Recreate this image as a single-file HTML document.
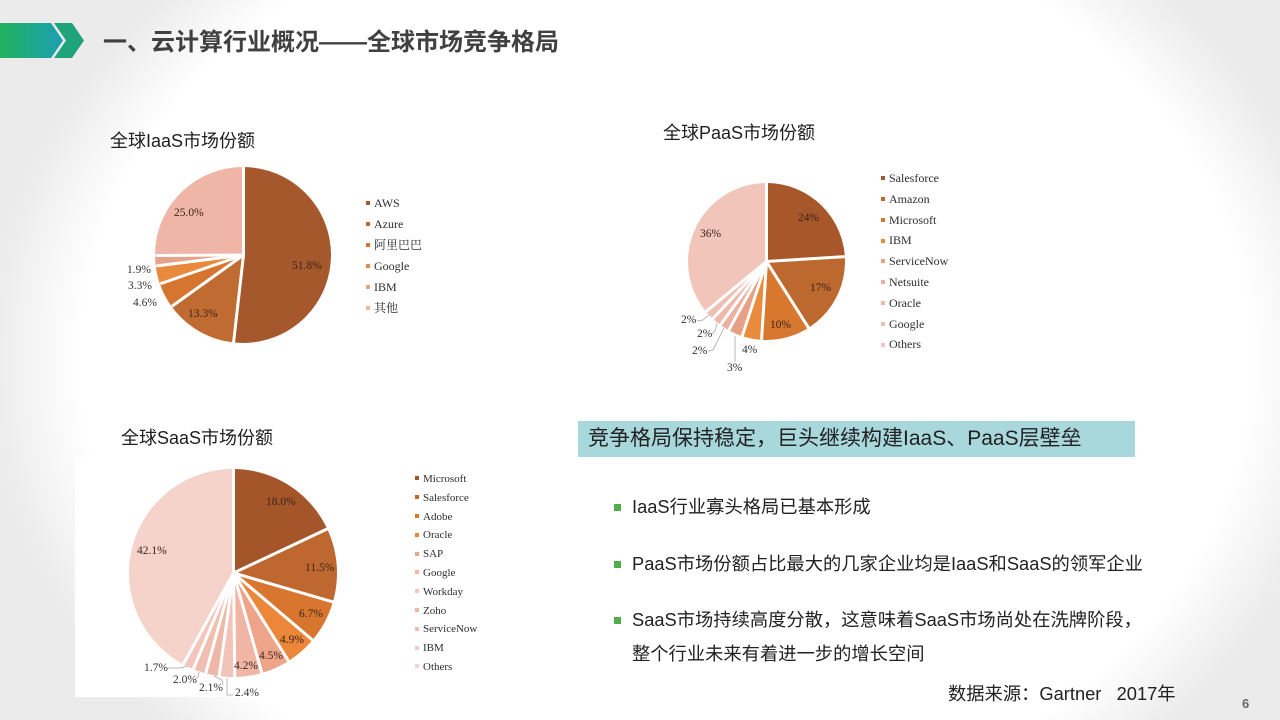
<!DOCTYPE html>
<html><head><meta charset="utf-8">
<style>
html,body{margin:0;padding:0;}
body{width:1280px;height:720px;position:relative;overflow:hidden;
background:radial-gradient(ellipse 680px 540px at 52% 50%, #ffffff 86%, #ebebeb 100%);
font-family:"Liberation Sans","Noto Sans CJK SC",sans-serif;}
.abs{position:absolute;}
.cn{font-family:"Liberation Sans","Noto Sans CJK SC",sans-serif;white-space:nowrap;}
.sub{font-size:18px;color:#1e1e1e;line-height:20px;}
.pie{position:absolute;border-radius:50%;}
.sep{position:absolute;width:3px;background:#fff;transform-origin:50% 100%;}
.lab{position:absolute;font-family:"Liberation Serif","Noto Serif CJK SC",serif;font-size:11.5px;line-height:14px;color:#3a2418;white-space:nowrap;}
.lg{position:absolute;font-family:"Liberation Serif","Noto Serif CJK SC",serif;color:#2e2e2e;white-space:nowrap;}
.lg i{display:inline-block;width:4px;height:4px;margin-right:4px;vertical-align:middle;position:relative;top:-1px;}
.bul{position:absolute;width:7px;height:7px;background:#4fae4a;}
.bt{position:absolute;font-size:18.3px;line-height:22px;color:#222;white-space:nowrap;}
</style></head><body>

<!-- header arrows -->
<svg class="abs" style="left:0;top:0" width="100" height="80">
<defs><linearGradient id="hg" x1="0" y1="0" x2="1" y2="0">
<stop offset="0" stop-color="#22b25c"/><stop offset="1" stop-color="#1b9fb4"/></linearGradient></defs>
<polygon points="0,23 51,23 63,40.5 51,58 0,58" fill="url(#hg)"/>
<polygon points="54,23 72,23 84,40.5 72,58 54,58 66,40.5" fill="#1ea37a"/>
</svg>
<div class="abs cn" style="left:103px;top:30px;font-size:24px;line-height:26px;font-weight:bold;color:#404040;">一、云计算行业概况——全球市场竞争格局</div>

<!-- chart image backgrounds -->
<div class="abs" style="left:140px;top:156px;width:300px;height:204px;background:#fff;"></div>
<div class="abs" style="left:662px;top:152px;width:305px;height:232px;background:#fff;"></div>
<div class="abs" style="left:75px;top:458px;width:435px;height:239px;background:#fff;"></div>

<!-- IaaS -->
<div class="abs sub cn" style="left:110px;top:131px;">全球IaaS市场份额</div>
<div class="pie" style="left:155px;top:167px;width:176px;height:176px;
background:conic-gradient(#a5582b 0 51.8%,#bf6b31 51.8% 65.1%,#d6752f 65.1% 69.7%,#e8893c 69.7% 73%,#e8a18b 73% 74.9%,#efb6a7 74.9% 100%);"></div>
<div class="sep" style="left:241.5px;top:167px;height:88px;transform:rotate(0deg)"></div>
<div class="sep" style="left:241.5px;top:167px;height:88px;transform:rotate(186.48deg)"></div>
<div class="sep" style="left:241.5px;top:167px;height:88px;transform:rotate(234.36deg)"></div>
<div class="sep" style="left:241.5px;top:167px;height:88px;transform:rotate(250.92deg)"></div>
<div class="sep" style="left:241.5px;top:167px;height:88px;transform:rotate(262.8deg)"></div>
<div class="sep" style="left:241.5px;top:167px;height:88px;transform:rotate(269.64deg)"></div>
<div class="lab" style="left:292px;top:259px;">51.8%</div>
<div class="lab" style="left:188px;top:307px;">13.3%</div>
<div class="lab" style="left:174px;top:206px;">25.0%</div>
<div class="lab" style="left:127px;top:263px;color:#333">1.9%</div>
<div class="lab" style="left:128px;top:279px;color:#333">3.3%</div>
<div class="lab" style="left:133px;top:296px;color:#333">4.6%</div>
<div class="lg" style="left:366px;top:195px;font-size:12px;line-height:16px;">
<div style="height:21px"><i style="background:#a5582b"></i>AWS</div>
<div style="height:21px"><i style="background:#bf6b31"></i>Azure</div>
<div style="height:21px"><i style="background:#d6752f"></i>阿里巴巴</div>
<div style="height:21px"><i style="background:#e8893c"></i>Google</div>
<div style="height:21px"><i style="background:#e8a18b"></i>IBM</div>
<div style="height:21px"><i style="background:#efb6a7"></i>其他</div>
</div>

<!-- PaaS -->
<div class="abs sub cn" style="left:663px;top:123px;">全球PaaS市场份额</div>
<div class="pie" style="left:688px;top:183px;width:157px;height:157px;
background:conic-gradient(#a7572a 0 24%,#bd682f 24% 41%,#d8782f 41% 51%,#ea8a3c 51% 55%,#e8a085 55% 58%,#ecb0a0 58% 60%,#eeb8aa 60% 62%,#f0bfb3 62% 64%,#f1c5ba 64% 100%);"></div>
<div class="sep" style="left:765px;top:183px;height:78.5px;transform:rotate(0deg)"></div>
<div class="sep" style="left:765px;top:183px;height:78.5px;transform:rotate(86.4deg)"></div>
<div class="sep" style="left:765px;top:183px;height:78.5px;transform:rotate(147.6deg)"></div>
<div class="sep" style="left:765px;top:183px;height:78.5px;transform:rotate(183.6deg)"></div>
<div class="sep" style="left:765px;top:183px;height:78.5px;transform:rotate(198deg)"></div>
<div class="sep" style="left:765px;top:183px;height:78.5px;transform:rotate(208.8deg)"></div>
<div class="sep" style="left:765px;top:183px;height:78.5px;transform:rotate(216deg)"></div>
<div class="sep" style="left:765px;top:183px;height:78.5px;transform:rotate(223.2deg)"></div>
<div class="sep" style="left:765px;top:183px;height:78.5px;transform:rotate(230.4deg)"></div>
<div class="lab" style="left:798px;top:211px;">24%</div>
<div class="lab" style="left:810px;top:281px;">17%</div>
<div class="lab" style="left:770px;top:318px;">10%</div>
<div class="lab" style="left:700px;top:227px;">36%</div>
<div class="lab" style="left:742px;top:343px;color:#333">4%</div>
<div class="lab" style="left:727px;top:361px;color:#333">3%</div>
<div class="lab" style="left:681px;top:313px;color:#333">2%</div>
<div class="lab" style="left:697px;top:327px;color:#333">2%</div>
<div class="lab" style="left:692px;top:344px;color:#333">2%</div>
<svg class="abs" style="left:0;top:0" width="1280" height="720">
<g fill="none" stroke="#b8b8b8" stroke-width="1">
<polyline points="697,321 703,320 709,315"/>
<polyline points="712,334 715,331 717,323"/>
<polyline points="708,351 713,350 724,328"/>
<polyline points="735,336 735,362"/>
<polyline points="168,668 180,668 188,666"/>
<polyline points="195,679 198,677 199,672"/>
<polyline points="223,685 222,680 214,676"/>
<polyline points="227,678 227,695 233,695"/>
</g></svg>
<div class="lg" style="left:881px;top:170px;font-size:12px;line-height:16px;">
<div style="height:20.8px"><i style="background:#a7572a"></i>Salesforce</div>
<div style="height:20.8px"><i style="background:#bd682f"></i>Amazon</div>
<div style="height:20.8px"><i style="background:#d8782f"></i>Microsoft</div>
<div style="height:20.8px"><i style="background:#ea8a3c"></i>IBM</div>
<div style="height:20.8px"><i style="background:#e8a085"></i>ServiceNow</div>
<div style="height:20.8px"><i style="background:#ecb0a0"></i>Netsuite</div>
<div style="height:20.8px"><i style="background:#eeb8aa"></i>Oracle</div>
<div style="height:20.8px"><i style="background:#f0bfb3"></i>Google</div>
<div style="height:20.8px"><i style="background:#f1c5ba"></i>Others</div>
</div>

<!-- SaaS -->
<div class="abs sub cn" style="left:121px;top:428px;">全球SaaS市场份额</div>
<div class="pie" style="left:129px;top:469px;width:208px;height:208px;
background:conic-gradient(#a5552a 0 18%,#bf6730 18% 29.5%,#d87630 29.5% 36.2%,#ec8739 36.2% 41.1%,#eea488 41.1% 45.6%,#f0b5a5 45.6% 49.8%,#f2c3b7 49.8% 52.2%,#efb7a8 52.2% 54.3%,#f1bfb2 54.3% 56.3%,#f2c6bb 56.3% 58%,#f5d2ca 58% 100%);"></div>
<div class="sep" style="left:231.5px;top:469px;height:104px;transform:rotate(0deg)"></div>
<div class="sep" style="left:231.5px;top:469px;height:104px;transform:rotate(64.8deg)"></div>
<div class="sep" style="left:231.5px;top:469px;height:104px;transform:rotate(106.2deg)"></div>
<div class="sep" style="left:231.5px;top:469px;height:104px;transform:rotate(130.32deg)"></div>
<div class="sep" style="left:231.5px;top:469px;height:104px;transform:rotate(147.96deg)"></div>
<div class="sep" style="left:231.5px;top:469px;height:104px;transform:rotate(164.16deg)"></div>
<div class="sep" style="left:231.5px;top:469px;height:104px;transform:rotate(179.28deg)"></div>
<div class="sep" style="left:231.5px;top:469px;height:104px;transform:rotate(187.92deg)"></div>
<div class="sep" style="left:231.5px;top:469px;height:104px;transform:rotate(195.48deg)"></div>
<div class="sep" style="left:231.5px;top:469px;height:104px;transform:rotate(202.68deg)"></div>
<div class="sep" style="left:231.5px;top:469px;height:104px;transform:rotate(208.8deg)"></div>
<div class="lab" style="left:266px;top:495px;">18.0%</div>
<div class="lab" style="left:305px;top:561px;">11.5%</div>
<div class="lab" style="left:299px;top:607px;">6.7%</div>
<div class="lab" style="left:280px;top:633px;">4.9%</div>
<div class="lab" style="left:259px;top:649px;">4.5%</div>
<div class="lab" style="left:234px;top:659px;">4.2%</div>
<div class="lab" style="left:235px;top:686px;color:#333">2.4%</div>
<div class="lab" style="left:199px;top:681px;color:#333">2.1%</div>
<div class="lab" style="left:173px;top:673px;color:#333">2.0%</div>
<div class="lab" style="left:144px;top:661px;color:#333">1.7%</div>
<div class="lab" style="left:137px;top:544px;">42.1%</div>
<div class="lg" style="left:415px;top:472px;font-size:11px;line-height:14px;">
<div style="height:18.8px"><i style="background:#a5552a"></i>Microsoft</div>
<div style="height:18.8px"><i style="background:#bf6730"></i>Salesforce</div>
<div style="height:18.8px"><i style="background:#d87630"></i>Adobe</div>
<div style="height:18.8px"><i style="background:#ec8739"></i>Oracle</div>
<div style="height:18.8px"><i style="background:#eea488"></i>SAP</div>
<div style="height:18.8px"><i style="background:#f0b5a5"></i>Google</div>
<div style="height:18.8px"><i style="background:#f2c3b7"></i>Workday</div>
<div style="height:18.8px"><i style="background:#efb7a8"></i>Zoho</div>
<div style="height:18.8px"><i style="background:#f1bfb2"></i>ServiceNow</div>
<div style="height:18.8px"><i style="background:#f2c6bb"></i>IBM</div>
<div style="height:18.8px"><i style="background:#f5d2ca"></i>Others</div>
</div>

<!-- right text -->
<div class="abs" style="left:578px;top:421px;width:557px;height:36px;background:#a8d7dc;"></div>
<div class="abs cn" style="left:588px;top:426px;font-size:21px;line-height:26px;color:#222;">竞争格局保持稳定，巨头继续构建IaaS、PaaS层壁垒</div>

<div class="bul" style="left:614px;top:504px;"></div>
<div class="bt cn" style="left:632px;top:496px;">IaaS行业寡头格局已基本形成</div>
<div class="bul" style="left:614px;top:561px;"></div>
<div class="bt cn" style="left:632px;top:553px;">PaaS市场份额占比最大的几家企业均是IaaS和SaaS的领军企业</div>
<div class="bul" style="left:614px;top:617px;"></div>
<div class="bt cn" style="left:632px;top:609px;">SaaS市场持续高度分散，这意味着SaaS市场尚处在洗牌阶段，</div>
<div class="bt cn" style="left:632px;top:643px;">整个行业未来有着进一步的增长空间</div>

<div class="abs cn" style="left:948px;top:683px;font-size:18.3px;line-height:22px;color:#222;">数据来源：Gartner&nbsp;&nbsp;&nbsp;2017年</div>
<div class="abs" style="left:1242px;top:696px;font-size:13px;line-height:16px;font-weight:bold;color:#666;">6</div>

</body></html>
